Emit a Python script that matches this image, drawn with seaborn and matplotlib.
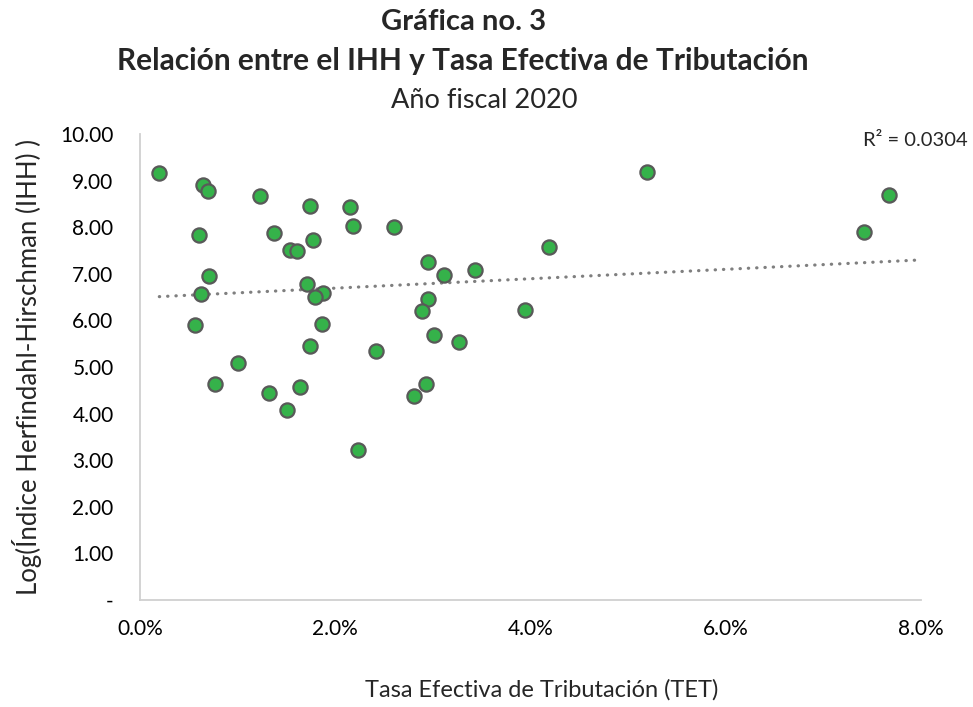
import numpy as np
import pandas as pd
import matplotlib
matplotlib.use("Agg")
import matplotlib.pyplot as plt
import seaborn as sns
from matplotlib.ticker import FuncFormatter, MultipleLocator

# Data (TET in percent, log IHH)
tet = [0.198, 0.649, 0.701, 1.226, 1.738, 2.146, 2.177, 2.605, 0.602, 1.374,
       1.538, 1.607, 1.769, 2.947, 3.118, 3.433, 4.190, 0.708, 0.626, 1.713,
       1.874, 1.793, 2.954, 2.887, 3.941, 0.564, 1.862, 3.010, 3.267, 1.744,
       2.413, 1.008, 0.766, 1.326, 1.644, 1.503, 2.933, 2.802, 2.236, 5.193,
       7.675, 7.419]
log_ihh = [9.17, 8.90, 8.78, 8.68, 8.45, 8.44, 8.02, 8.00, 7.84, 7.88,
           7.52, 7.48, 7.72, 7.25, 6.97, 7.08, 7.57, 6.95, 6.56, 6.78,
           6.58, 6.50, 6.45, 6.21, 6.22, 5.91, 5.92, 5.69, 5.53, 5.45,
           5.34, 5.09, 4.64, 4.45, 4.57, 4.07, 4.63, 4.38, 3.22, 9.18,
           8.69, 7.90]
# Linear trendline as shown in the chart
trend_intercept = 6.49
trend_slope = 0.101
trend_x_end = 8.0
r2_label = "R² = 0.0304"
title1 = "Gráfica no. 3"
title2 = "Relación entre el IHH y Tasa Efectiva de Tributación"
title3 = "Año fiscal 2020"
xlabel = "Tasa Efectiva de Tributación (TET)"
ylabel = "Log(Índice Herfindahl-Hirschman (IHH) )"

df = pd.DataFrame({"tet": tet, "ihh": log_ihh})

sns.set_style("white")
plt.rcParams['font.family'] = ['Lato', 'DejaVu Sans']

fig = plt.figure(figsize=(9.73, 7.07), dpi=100)
ax = fig.add_axes([140/973, 1-600/707, 781/973, 466/707])

# trendline
xs = np.array([df["tet"].min(), trend_x_end])
ax.plot(xs, trend_slope*xs + trend_intercept, color="#7f7f7f", lw=2.3,
        linestyle=(0, (0.1, 2.5)), dash_capstyle="round", zorder=2)

sns.scatterplot(data=df, x="tet", y="ihh", ax=ax, s=105, color="#35B24A",
                edgecolor="#595959", linewidth=1.6, zorder=3, legend=False)

ax.set_xlim(0, 8)
ax.set_ylim(0, 10)
ax.xaxis.set_major_locator(MultipleLocator(2))
ax.yaxis.set_major_locator(MultipleLocator(1))
ax.xaxis.set_major_formatter(FuncFormatter(lambda v, p: f"{v:.1f}%"))
ax.yaxis.set_major_formatter(FuncFormatter(lambda v, p: "-" if abs(v) < 1e-9 else f"{v:.2f}"))
ax.tick_params(axis="both", length=0, labelsize=15, colors="#000000")
ax.tick_params(axis="y", pad=19)
ax.tick_params(axis="x", pad=14)
for s in ["top", "right"]:
    ax.spines[s].set_visible(False)
for s in ["left", "bottom"]:
    ax.spines[s].set_color("#d0d0d0")
    ax.spines[s].set_linewidth(1.3)
ax.grid(False)

ax.set_xlabel(xlabel, fontsize=17)
ax.set_ylabel(ylabel, fontsize=18.5)
ax.xaxis.set_label_coords((542-140)/781, -(690-600)/466)
ax.yaxis.set_label_coords(-(140-27)/781, 0.5)
ax.xaxis.label.set_va("center")
ax.yaxis.label.set_va("center")

fig.text(464/973, 1-22/707, title1, ha="center", va="center", fontsize=21, fontweight="bold")
fig.text(463/973, 1-61/707, title2, ha="center", va="center", fontsize=21.5, fontweight="bold")
fig.text(484/973, 1-100/707, title3, ha="center", va="center", fontsize=19.5)
fig.text(968/973, 1-141/707, r2_label, ha="right", va="center", fontsize=14.5)

fig.savefig("out.png", dpi=100)
